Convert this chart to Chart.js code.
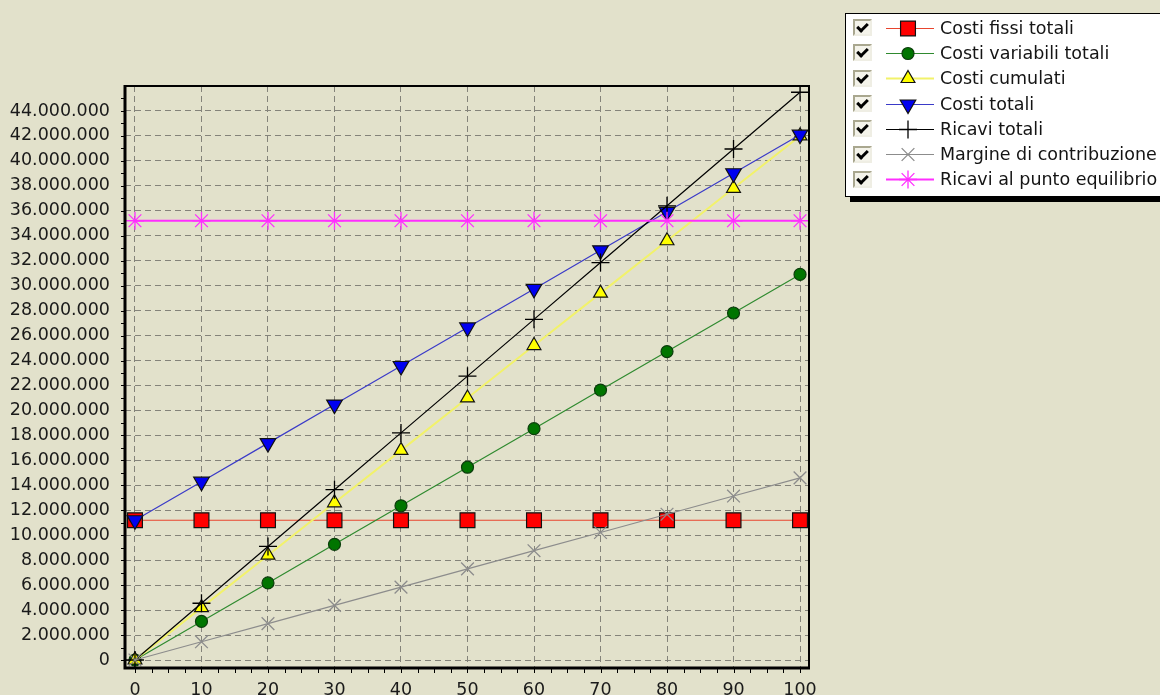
<!DOCTYPE html>
<html>
<head>
<meta charset="utf-8">
<script src="https://cdn.jsdelivr.net/npm/chart.js@4/dist/chart.umd.min.js"></script>
<style>
html, body { margin: 0; padding: 0; background: #e2e1cb; overflow: hidden; }
#contenitore { position: relative; width: 1160px; height: 695px; }
#grafico { position: absolute; left: 0; top: 0; }
#legenda {
    position: absolute; left: 845px; top: 13px; width: 340px; height: 181px;
    background: #fff; border: 1px solid #000; box-shadow: 5px 5px 0 #000;
    font-family: "DejaVu Sans", sans-serif; font-size: 17.5px; color: #141414;
    padding-top: 1px; box-sizing: content-box;
}
.riga { height: 25.3px; display: flex; align-items: center; }
.casella {
    width: 15px; height: 13px; margin-left: 7px; margin-right: 14px;
    border: 2px solid; border-color: #a9a78f #efeee4 #efeee4 #a9a78f;
    background: #f4f3ea; position: relative;
}
.casella::after {
    content: ""; position: absolute; left: 4px; top: 0px; width: 4px; height: 8px;
    border: solid #000; border-width: 0 3px 3px 0; transform: rotate(45deg);
}
.riga canvas { margin-right: 6px; }
</style>
</head>
<body>
<div id="contenitore">
    <canvas id="grafico" width="1160" height="695"></canvas>
    <div id="legenda"></div>
</div>
<script>
// Quantità prodotte (asse x)
const quantita = [0, 10, 20, 30, 40, 50, 60, 70, 80, 90, 100];

// Serie
const costiFissi = [11200000, 11200000, 11200000, 11200000, 11200000, 11200000, 11200000, 11200000, 11200000, 11200000, 11200000];
const costiVariabili = [0, 3090000, 6180000, 9270000, 12360000, 15450000, 18540000, 21630000, 24720000, 27810000, 30900000];
const costiCumulati = [0, 4200000, 8400000, 12600000, 16800000, 21000000, 25200000, 29400000, 33600000, 37800000, 42000000];
const costiTotali = [11200000, 14290000, 17380000, 20470000, 23560000, 26650000, 29740000, 32830000, 35920000, 39010000, 42100000];
const ricaviTotali = [0, 4550000, 9100000, 13650000, 18200000, 22750000, 27300000, 31850000, 36400000, 40950000, 45500000];
const margineContribuzione = [0, 1460000, 2920000, 4380000, 5840000, 7300000, 8760000, 10220000, 11680000, 13140000, 14600000];
const ricaviEquilibrio = [35200000, 35200000, 35200000, 35200000, 35200000, 35200000, 35200000, 35200000, 35200000, 35200000, 35200000];

// Etichette asse y
const tickY = [0, 2000000, 4000000, 6000000, 8000000, 10000000, 12000000, 14000000, 16000000, 18000000, 20000000,
    22000000, 24000000, 26000000, 28000000, 30000000, 32000000, 34000000, 36000000, 38000000, 40000000, 42000000, 44000000];

function punti(valori) {
    return valori.map((v, i) => ({ x: quantita[i], y: v }));
}

function formatta(n) {
    return String(n).replace(/\B(?=(\d{3})+(?!\d))/g, '.');
}

Chart.defaults.font.family = '"DejaVu Sans", sans-serif';
Chart.defaults.font.size = 17.5;
Chart.defaults.color = '#1a1a1a';

const serie = [
    { label: 'Costi fissi totali', data: punti(costiFissi), borderColor: '#e8452e', backgroundColor: '#ff0000',
      pointBorderColor: '#111', pointStyle: 'rect', pointRadius: 10.5, borderWidth: 1.2, order: 7 },
    { label: 'Costi variabili totali', data: punti(costiVariabili), borderColor: '#2f8a2f', backgroundColor: '#007500',
      pointBorderColor: '#0b3d0b', pointStyle: 'circle', pointRadius: 6, borderWidth: 1.2, order: 6 },
    { label: 'Costi cumulati', data: punti(costiCumulati), borderColor: '#f2f26a', backgroundColor: '#ffff00',
      pointBorderColor: '#111', pointStyle: 'triangle', pointRadius: 8, borderWidth: 2, order: 5 },
    { label: 'Costi totali', data: punti(costiTotali), borderColor: '#3a3ac8', backgroundColor: '#0000f0',
      pointBorderColor: '#111', pointStyle: 'triangle', pointRotation: 180, pointRadius: 9, borderWidth: 1.2, order: 4 },
    { label: 'Ricavi totali', data: punti(ricaviTotali), borderColor: '#000', backgroundColor: '#000',
      pointBorderColor: '#000', pointStyle: 'cross', pointRadius: 9, borderWidth: 1.2, order: 3 },
    { label: 'Margine di contribuzione', data: punti(margineContribuzione), borderColor: '#8c8c8c', backgroundColor: '#8c8c8c',
      pointBorderColor: '#8c8c8c', pointStyle: 'crossRot', pointRadius: 9, borderWidth: 1.2, order: 2 },
    { label: 'Ricavi al punto equilibrio', data: punti(ricaviEquilibrio), borderColor: '#ff2eff', backgroundColor: '#ff2eff',
      pointBorderColor: '#ff2eff', pointStyle: 'star', pointRadius: 9, borderWidth: 2, order: 1 }
];

serie.forEach(s => {
    s.pointBackgroundColor = s.backgroundColor;
    s.pointBorderWidth = s.pointStyle === 'cross' || s.pointStyle === 'crossRot' || s.pointStyle === 'star' ? 1.3 : 1.2;
    s.tension = 0;
    s.fill = false;
});

// Cornice nera e tacche minori
const cornice = {
    id: 'cornice',
    afterDraw(chart) {
        const { ctx, chartArea: a, scales: { x, y } } = chart;
        ctx.save();
        ctx.strokeStyle = '#000';
        ctx.lineWidth = 1;
        ctx.beginPath();
        for (let v = 0; v <= 100; v += 2.5) {
            const px = Math.round(x.getPixelForValue(v)) + 0.5;
            ctx.moveTo(px, a.bottom);
            ctx.lineTo(px, a.bottom + 5);
        }
        for (let v = 0; v <= 45000000; v += 1000000) {
            const py = Math.round(y.getPixelForValue(v)) + 0.5;
            ctx.moveTo(a.left - 4, py);
            ctx.lineTo(a.left, py);
        }
        ctx.stroke();
        ctx.lineWidth = 2;
        ctx.strokeRect(a.left, a.top, a.right - a.left, a.bottom - a.top);
        ctx.lineWidth = 3;
        ctx.beginPath();
        ctx.moveTo(a.left, a.top - 1);
        ctx.lineTo(a.left, a.bottom);
        ctx.lineTo(a.right + 1, a.bottom);
        ctx.stroke();
        ctx.restore();
    }
};

const grafico = new Chart(document.getElementById('grafico'), {
    type: 'line',
    data: { datasets: serie },
    options: {
        responsive: false,
        animation: false,
        layout: { padding: { left: 0, top: 86, right: 351, bottom: 0 } },
        plugins: { legend: { display: false }, tooltip: { enabled: false } },
        scales: {
            x: {
                type: 'linear', min: -1.5, max: 101.35,
                afterBuildTicks: s => { s.ticks = quantita.map(v => ({ value: v })); },
                afterFit: s => { s.height = 27; },
                ticks: { padding: 12, callback: v => v, maxRotation: 0, autoSkip: false },
                grid: { color: '#84837a', lineWidth: 1, drawTicks: false },
                border: { display: false, dash: [6, 4] }
            },
            y: {
                type: 'linear', min: -640000, max: 46000000,
                afterBuildTicks: s => { s.ticks = tickY.map(v => ({ value: v })); },
                afterFit: s => { s.width = 125; },
                ticks: { padding: 15, callback: v => formatta(v), autoSkip: false },
                grid: { color: '#84837a', lineWidth: 1, drawTicks: false },
                border: { display: false, dash: [6, 4] }
            }
        }
    },
    plugins: [cornice]
});

// Legenda con caselle di spunta
const legenda = document.getElementById('legenda');
grafico.data.datasets.forEach(ds => {
    const riga = document.createElement('div');
    riga.className = 'riga';
    const casella = document.createElement('span');
    casella.className = 'casella';
    riga.appendChild(casella);

    const simbolo = document.createElement('canvas');
    simbolo.width = 48;
    simbolo.height = 22;
    const c = simbolo.getContext('2d');
    c.strokeStyle = ds.borderColor;
    c.lineWidth = ds.borderWidth;
    c.beginPath();
    c.moveTo(0, 11.5);
    c.lineTo(48, 11.5);
    c.stroke();
    c.fillStyle = ds.pointBackgroundColor;
    c.strokeStyle = ds.pointBorderColor;
    c.lineWidth = ds.pointBorderWidth;
    if (Chart.helpers && Chart.helpers.drawPoint) {
        Chart.helpers.drawPoint(c, {
            pointStyle: ds.pointStyle, rotation: ds.pointRotation || 0,
            radius: ds.pointRadius, borderWidth: ds.pointBorderWidth
        }, 22, 11.5);
    }
    riga.appendChild(simbolo);

    const testo = document.createElement('span');
    testo.textContent = ds.label;
    riga.appendChild(testo);
    legenda.appendChild(riga);
});
</script>
</body>
</html>
